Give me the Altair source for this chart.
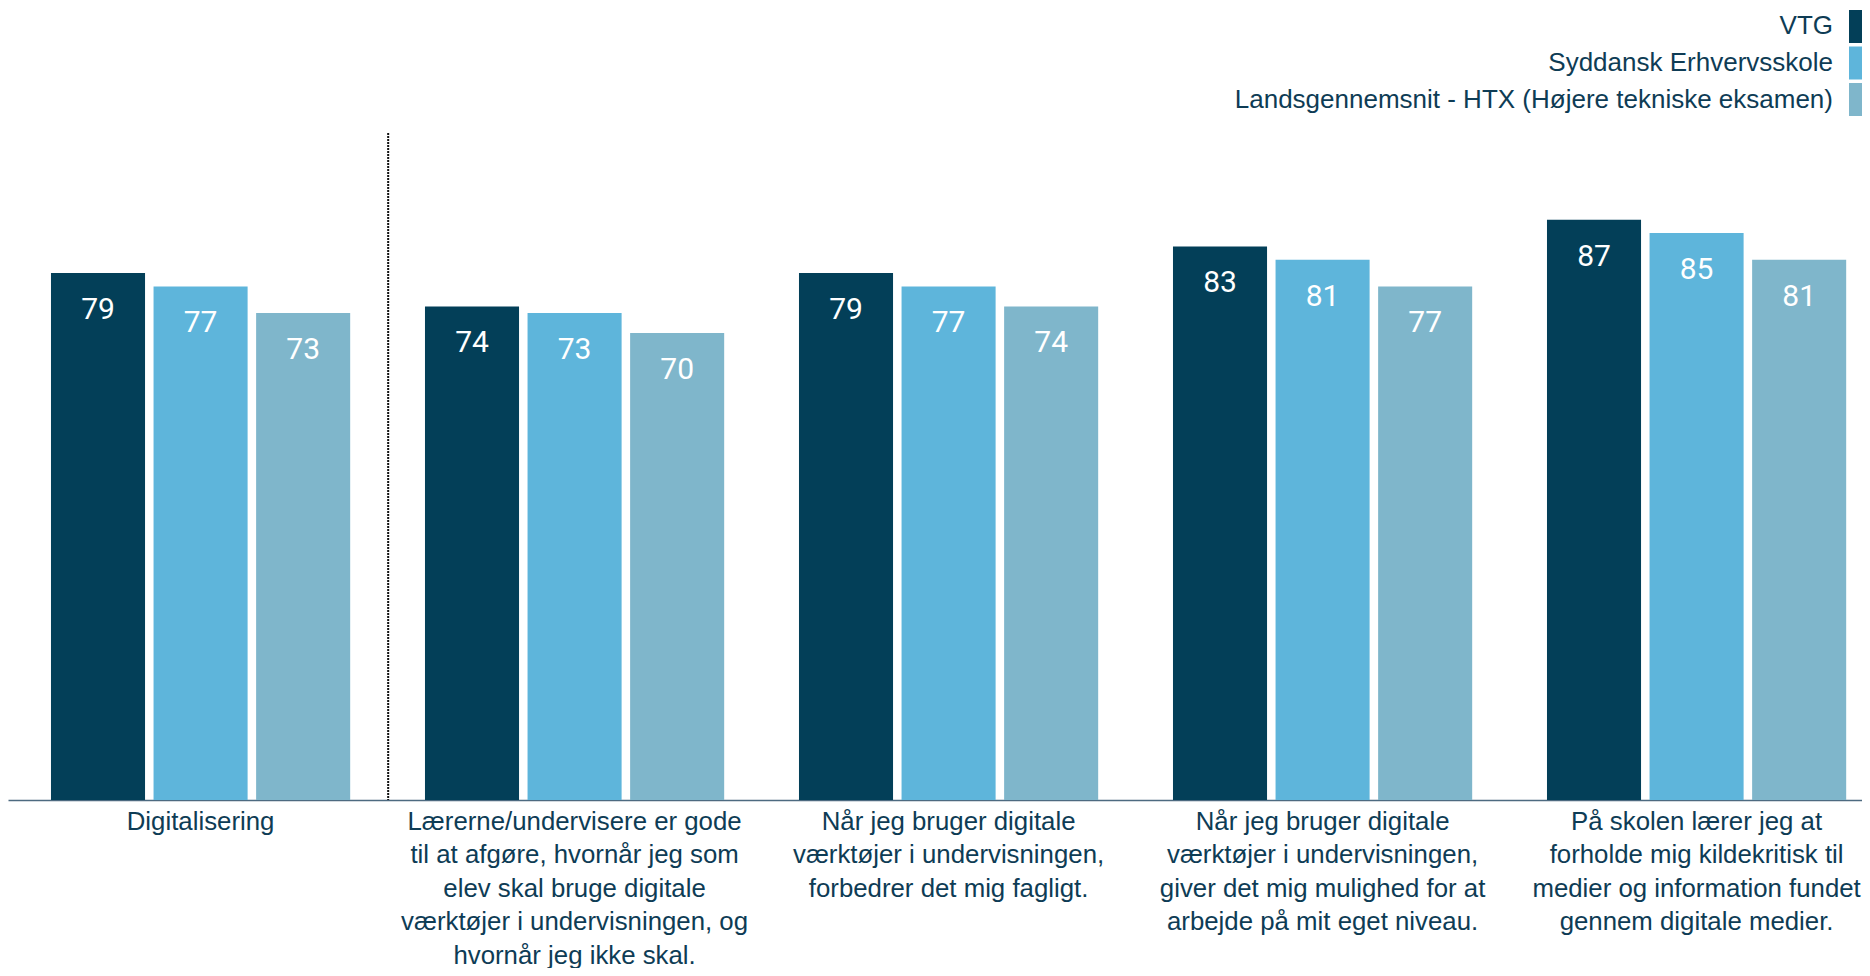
import json
import altair as alt
import pandas as pd

categories = [
    "Digitalisering",
    "Lærerne/undervisere er gode til at afgøre, hvornår jeg som elev skal bruge digitale værktøjer i undervisningen, og hvornår jeg ikke skal.",
    "Når jeg bruger digitale værktøjer i undervisningen, forbedrer det mig fagligt.",
    "Når jeg bruger digitale værktøjer i undervisningen, giver det mig mulighed for at arbejde på mit eget niveau.",
    "På skolen lærer jeg at forholde mig kildekritisk til medier og information fundet gennem digitale medier.",
]
label_lines = [
    ["Digitalisering"],
    ["Lærerne/undervisere er gode", "til at afgøre, hvornår jeg som", "elev skal bruge digitale",
     "værktøjer i undervisningen, og", "hvornår jeg ikke skal."],
    ["Når jeg bruger digitale", "værktøjer i undervisningen,", "forbedrer det mig fagligt."],
    ["Når jeg bruger digitale", "værktøjer i undervisningen,", "giver det mig mulighed for at",
     "arbejde på mit eget niveau."],
    ["På skolen lærer jeg at", "forholde mig kildekritisk til", "medier og information fundet",
     "gennem digitale medier."],
]
series = ["VTG", "Syddansk Erhvervsskole", "Landsgennemsnit - HTX (Højere tekniske eksamen)"]
vtg = [79, 74, 79, 83, 87]
syddansk = [77, 73, 77, 81, 85]
landsgennemsnit = [73, 70, 74, 77, 81]
colors = ["#033f58", "#5eb5db", "#7fb6cb"]

text_color = "#0e3c55"
label_font = "Liberation Sans"

rows = []
for i, c in enumerate(categories):
    for s, vals in zip(series, [vtg, syddansk, landsgennemsnit]):
        rows.append({"cat": c, "series": s, "value": vals[i]})
df = pd.DataFrame(rows)

label_map = json.dumps(dict(zip(categories, label_lines)), ensure_ascii=False)

x_enc = alt.X(
    "cat:N", sort=categories, title=None,
    scale=alt.Scale(paddingInner=0.2, paddingOuter=0.0786, align=0.731),
    axis=alt.Axis(
        labelExpr=label_map + "[datum.value]",
        labelAngle=0, ticks=False, labelPadding=9,
        labelFont=label_font, labelFontSize=25.8, labelColor=text_color,
        labelLineHeight=33.6, labelLimit=1000, labelOverlap=False, labelFlush=False,
        domainColor="#4d6a80", domainWidth=1.5, grid=False,
    ),
)
xoff = alt.XOffset("series:N", sort=series, scale=alt.Scale(paddingInner=0.083, paddingOuter=0))
y_enc = alt.Y("value:Q", scale=alt.Scale(domain=[0, 100], nice=False), axis=None)
color_enc = alt.Color("series:N", sort=series, scale=alt.Scale(domain=series, range=colors), legend=None)

base = alt.Chart(df)
bars = base.mark_bar().encode(x=x_enc, xOffset=xoff, y=y_enc, color=color_enc)
values = base.mark_text(baseline="alphabetic", dy=46, font="Roboto", fontSize=30, color="white").encode(
    x=x_enc, xOffset=xoff, y=y_enc, text="value:Q"
)

sep_df = pd.DataFrame({"cat": [categories[0]], "top": [100], "bottom": [0]})
sep = alt.Chart(sep_df).mark_rule(color="#111111", strokeWidth=2, strokeDash=[2, 1], xOffset=38).encode(
    x=alt.X("cat:N", sort=categories, bandPosition=1),
    y=alt.Y("top:Q"), y2="bottom:Q",
)

main = alt.layer(bars, values, sep)

leg_df = pd.DataFrame({"series": series})
leg_y = alt.Y("series:N", sort=series, axis=None,
              scale=alt.Scale(type="band", range=[-123, -17], paddingInner=0.1, paddingOuter=0))
leg_rect = alt.Chart(leg_df).mark_rect().encode(
    x=alt.value(1841), x2=alt.value(1880), y=leg_y, color=color_enc
)
leg_text = alt.Chart(leg_df).mark_text(
    align="right", baseline="middle", font=label_font, fontSize=26, color=text_color
).encode(x=alt.value(1825), y=leg_y, text="series:N")
legend = alt.layer(leg_rect, leg_text)

chart = alt.layer(main, legend).resolve_scale(y="independent").properties(
    width=1854, height=667,
    padding={"left": 0, "top": 125, "right": 0, "bottom": 168},
    autosize=alt.AutoSizeParams(type="none"),
    background="white",
).configure_view(stroke=None)

chart.save("out.html", embed_options={"renderer": "svg", "actions": False})
